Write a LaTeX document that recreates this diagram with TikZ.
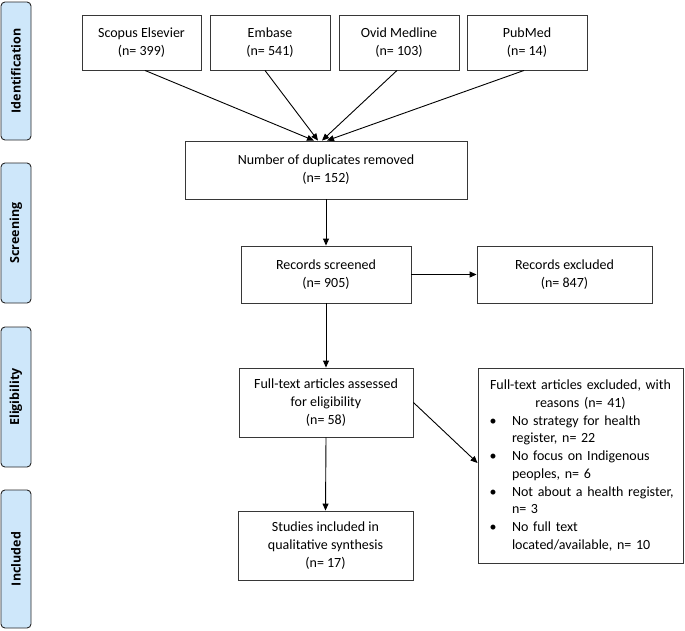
\documentclass[tikz,border=0pt]{standalone}
\usepackage{fontspec}
\setmainfont{Carlito}
\newfontfamily\barfont{Open Sans}
\usetikzlibrary{arrows.meta}
\definecolor{barblue}{RGB}{206,231,250}
\definecolor{edgegray}{RGB}{55,55,55}
\newcommand\blt{\makebox[34pt][l]{\hspace*{11.5pt}\textbullet}}
\newcommand\ind{\hspace*{34pt}}
\begin{document}
\begin{tikzpicture}[x=1pt,y=-1pt,
  box/.style={draw=edgegray, line width=0.9pt, inner sep=0pt, align=center,
    font=\fontsize{14}{18}\selectfont},
  phase/.style={draw=black!85, fill=barblue, line width=0.9pt, rounded corners=4pt,
    minimum width=30pt, inner sep=0pt},
  phasetext/.style={rotate=90, font=\barfont\bfseries\fontsize{12.5}{15}\selectfont},
  arr/.style={-{Triangle[length=7pt,width=6pt]}, line width=0.9pt, black}]
\useasboundingbox (0,0) rectangle (685,630);
% phase bars
\node[phase, minimum height=138pt] (pid) at (16,71) {};
\node[phasetext] (tid) at (pid.center) {Identification};
\node[phase, minimum height=140pt] (psc) at (16,233) {};
\node[phasetext] (tsc) at (psc.center) {Screening};
\node[phase, minimum height=140pt] (pel) at (16,397) {};
\node[phasetext] (tel) at (pel.center) {Eligibility};
\node[phase, minimum height=138pt] (pin) at (16,559) {};
\node[phasetext] (tin) at (pin.center) {Included};
% boxes
\node[box, minimum width=119pt, minimum height=55pt] (scopus) at (141.5,42.5) {Scopus Elsevier\\(n= 399)};
\node[box, minimum width=120pt, minimum height=55pt] (embase) at (270,42.5) {Embase\\(n= 541)};
\node[box, minimum width=120pt, minimum height=55pt] (ovid) at (399,42.5) {Ovid Medline\\(n= 103)};
\node[box, minimum width=120pt, minimum height=55pt] (pubmed) at (527,42.5) {PubMed\\(n= 14)};
\node[box, minimum width=282pt, minimum height=58pt] (dup) at (326,170) {Number of duplicates removed\\(n= 152)};
\node[box, minimum width=170pt, minimum height=57pt] (scr) at (326,274.5) {Records screened\\(n= 905)};
\node[box, minimum width=175pt, minimum height=57pt] (exc) at (564.5,274.5) {Records excluded\\(n= 847)};
\node[box, minimum width=174pt, minimum height=69pt] (fta) at (326,402.5) {Full-text articles assessed\\for eligibility\\(n= 58)};
\node[box, minimum width=175pt, minimum height=69pt] (inc) at (325.5,545.5) {Studies included in\\qualitative synthesis\\(n= 17)};
\node[box, minimum width=205pt, minimum height=195pt, text width=205pt, align=left,
  font=\fontsize{14}{17.7}\selectfont] (fte) at (580.5,465.5)
  {\makebox[205pt][c]{Full-text articles excluded, with}\\
   \makebox[205pt][c]{reasons (n= 41)}\\
   \blt No strategy for health\\
   \ind register, n= 22\\
   \blt No focus on Indigenous\\
   \ind peoples, n= 6\\
   \blt Not about a health register,\\
   \ind n= 3\\
   \blt No full text\\
   \ind located/available, n= 10};
% connectors
\draw[arr] ([xshift=3.5pt]scopus.south) -- ([xshift=-12pt]dup.north);
\draw[arr] ([xshift=-5pt]embase.south) -- ([xshift=-8pt]dup.north);
\draw[arr] ([xshift=-2pt]ovid.south) -- ([xshift=-4pt]dup.north);
\draw[arr] ([xshift=-3pt]pubmed.south) -- ([xshift=1pt]dup.north);
\draw[arr] (dup.south) -- (scr.north);
\draw[arr] (scr.east) -- (exc.west);
\draw[arr] (scr.south) -- (fta.north);
\draw[arr] (fta.south) -- (inc.north);
\draw[arr] (fta.east) -- ([yshift=2.5pt]fte.west);
\end{tikzpicture}
\end{document}
